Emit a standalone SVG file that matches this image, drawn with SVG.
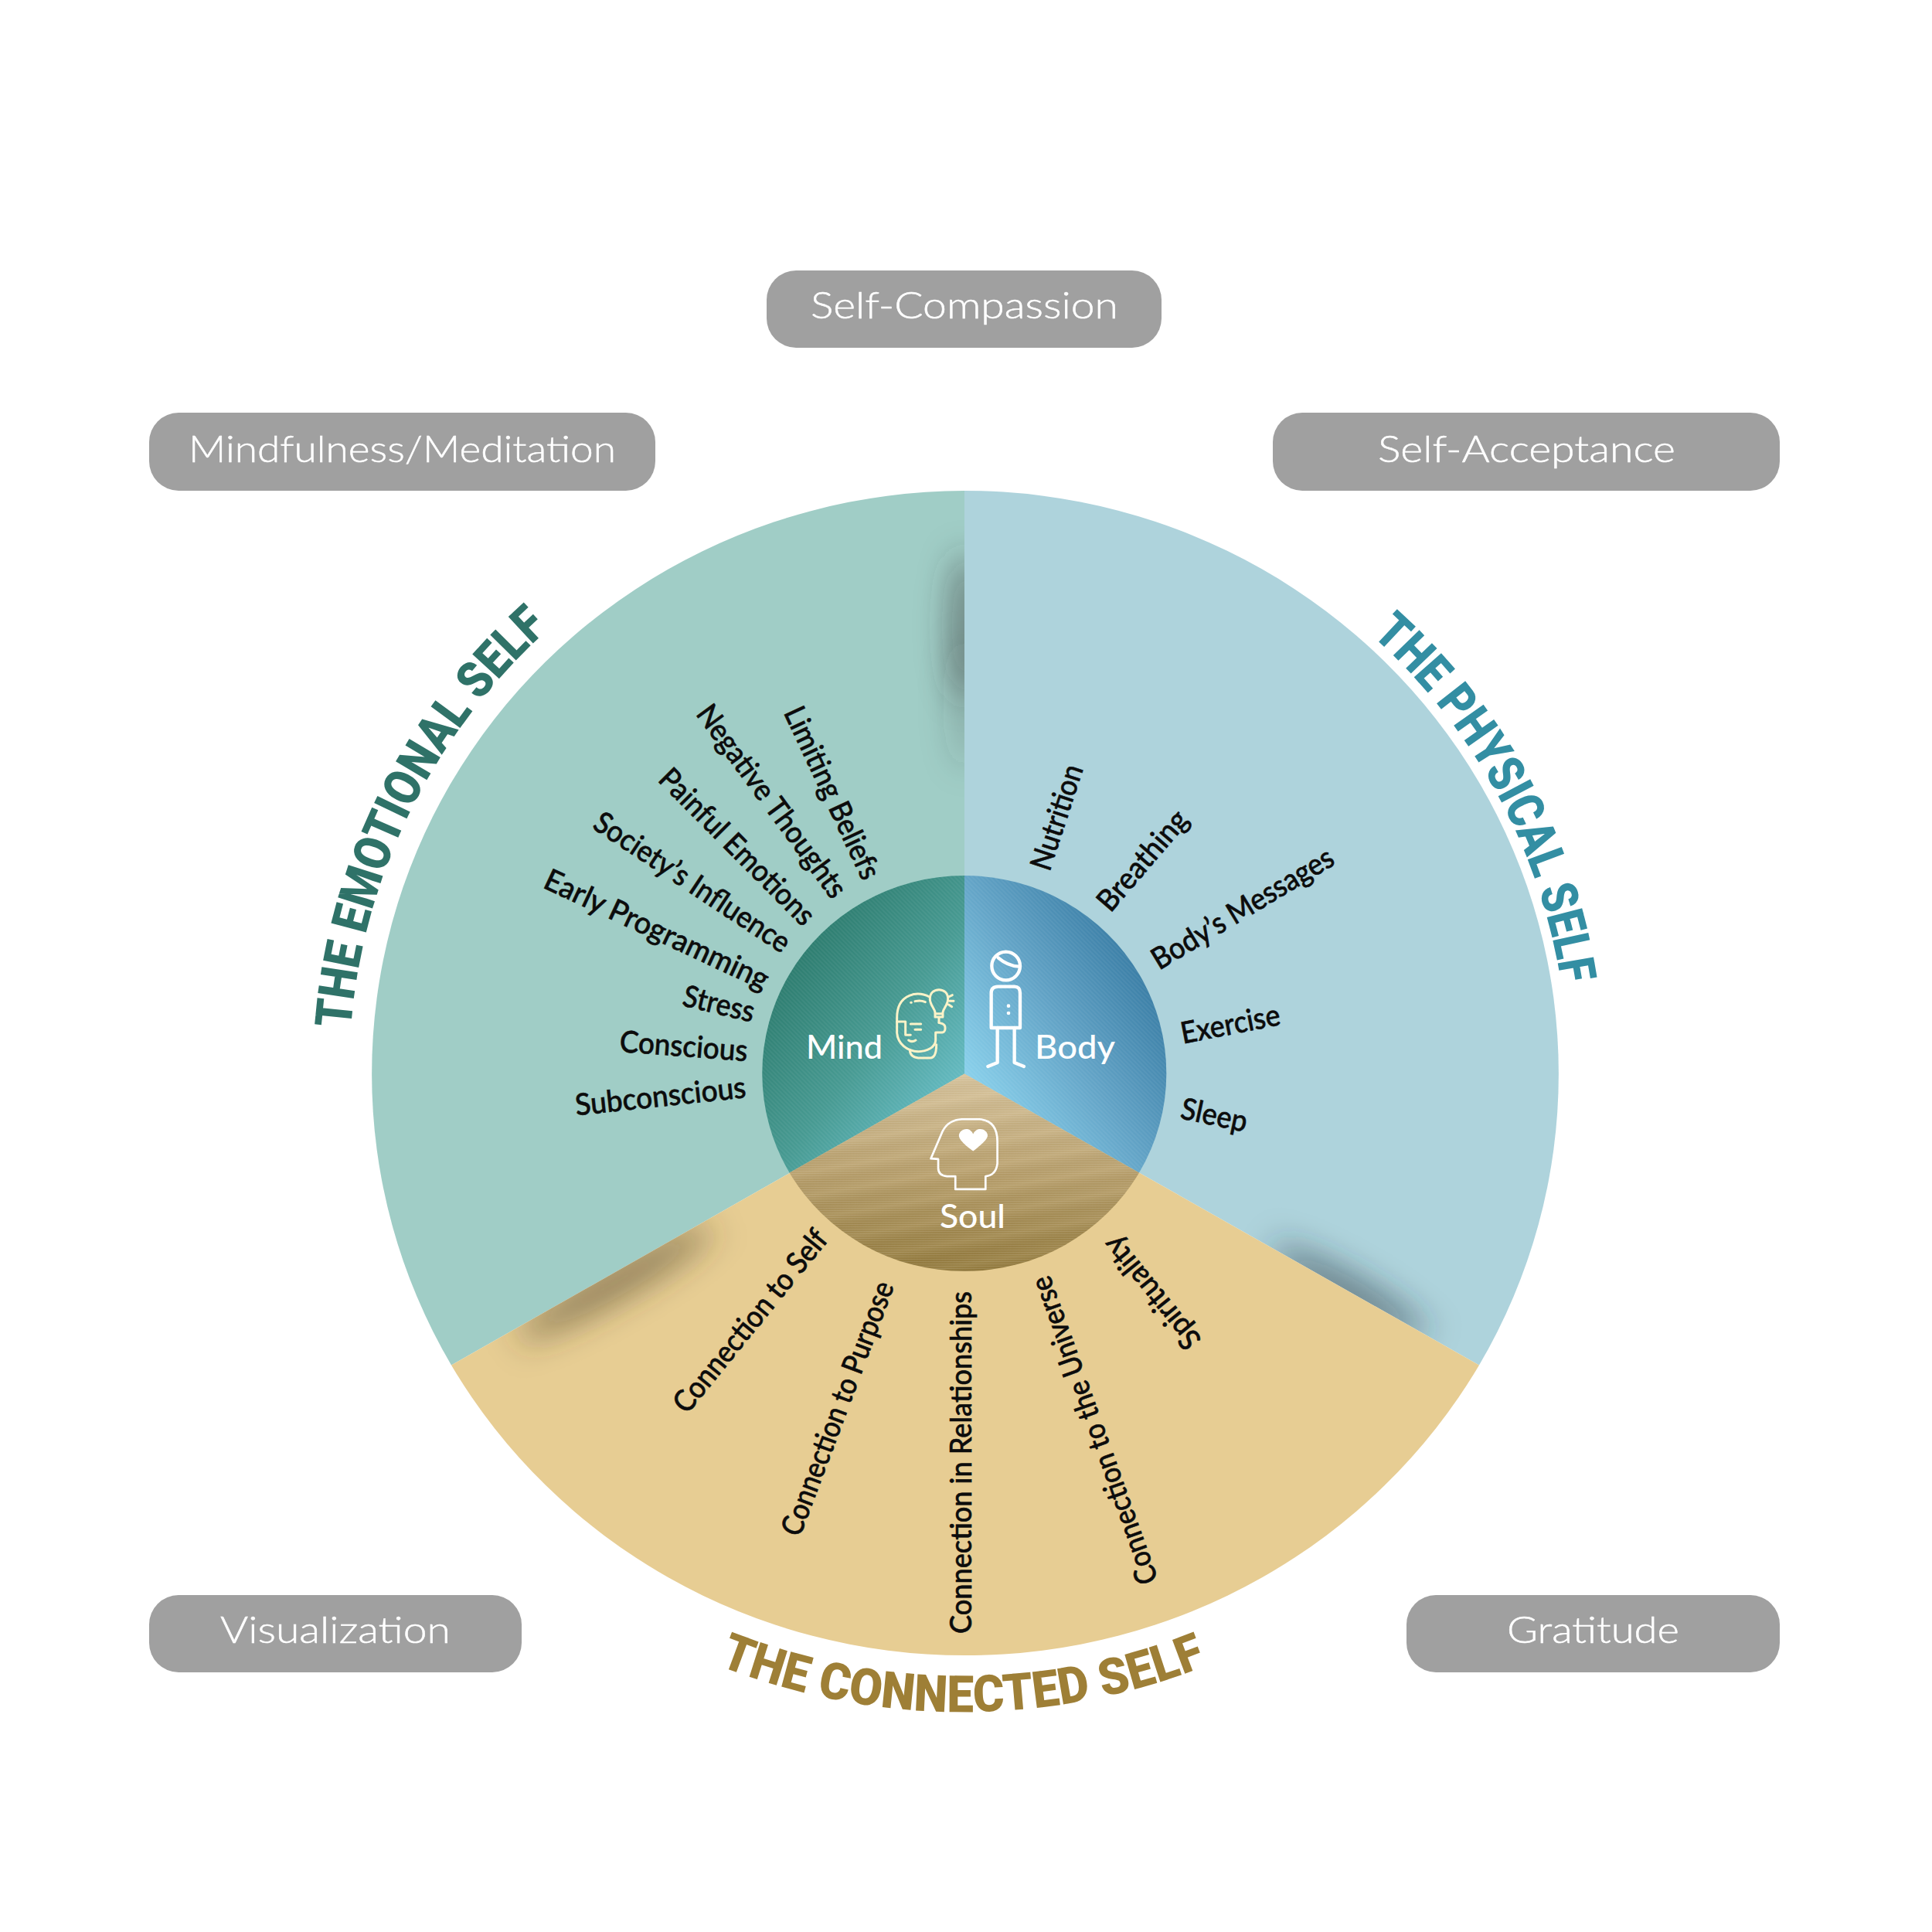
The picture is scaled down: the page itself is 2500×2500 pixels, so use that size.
<svg xmlns="http://www.w3.org/2000/svg" width="2500" height="2500" viewBox="0 0 2500 2500">
<style>
.pill{fill:#a0a0a0}
.pt{font-family:Lato,"Liberation Sans",sans-serif;font-weight:300;font-size:48px;fill:#fff;stroke:#fff;stroke-width:.5px}
.lb{font-family:Lato,"Liberation Sans",sans-serif;font-weight:500;font-size:39px;fill:#0c0c0c;stroke:#0c0c0c;stroke-width:.6px}
.ct{font-family:Lato,"Liberation Sans",sans-serif;font-weight:500;font-size:42px;fill:#fff}
.tt{font-family:Roboto,Lato,sans-serif;font-weight:900;font-size:66px}
.ic{fill:none;stroke-linecap:round;stroke-linejoin:round}
</style>
<defs>
<clipPath id="cG"><path d="M1248 1389.500L584 1766.500A769 754.500 0 0 1 1248 635Z"/></clipPath>
<clipPath id="cB"><path d="M1248 1389.500L1248 635A769 754.500 0 0 1 1914 1766.500Z"/></clipPath>
<clipPath id="cY"><path d="M1248 1389.500L1914 1766.500A769 754.500 0 0 1 584 1766.500Z"/></clipPath>
<filter id="blur" x="-400%" y="-400%" width="900%" height="900%"><feGaussianBlur stdDeviation="22"/></filter>
<linearGradient id="gMind" gradientUnits="userSpaceOnUse" x1="1020" y1="1230" x2="1250" y2="1400"><stop offset="0" stop-color="#2b7a6c"/><stop offset=".55" stop-color="#479a92"/><stop offset="1" stop-color="#66bcc4"/></linearGradient>
<linearGradient id="gBody" gradientUnits="userSpaceOnUse" x1="1260" y1="1400" x2="1490" y2="1260"><stop offset="0" stop-color="#88cfea"/><stop offset=".5" stop-color="#62a3c6"/><stop offset="1" stop-color="#387ca4"/></linearGradient>
<linearGradient id="gSoul" gradientUnits="userSpaceOnUse" x1="1248" y1="1390" x2="1248" y2="1645"><stop offset="0" stop-color="#d8c49c"/><stop offset=".5" stop-color="#b9a06c"/><stop offset="1" stop-color="#937a3c"/></linearGradient>
<linearGradient id="bands" gradientUnits="userSpaceOnUse" x1="1248" y1="1390" x2="1253" y2="1420" spreadMethod="repeat"><stop offset="0" stop-color="#fff" stop-opacity=".05"/><stop offset=".5" stop-color="#000" stop-opacity=".03"/><stop offset="1" stop-color="#fff" stop-opacity=".05"/></linearGradient>
<pattern id="hatch" width="4" height="4" patternUnits="userSpaceOnUse" patternTransform="rotate(45)"><rect width="4" height="2" fill="#fff" fill-opacity=".05"/></pattern>
<pattern id="hlines" width="4" height="3" patternUnits="userSpaceOnUse"><rect width="4" height="1" fill="#fff" fill-opacity=".1"/></pattern>
<path id="pE" d="M454 1331A796 781 0 0 1 1248 608.500"/>
<path id="pP" d="M1775 822A781 767 0 0 1 1910 1795"/>
<path id="pC" d="M930 2155A843 827 0 0 0 1900 1910"/>
</defs>
<rect width="2500" height="2500" fill="#fff"/>

<g id="practices">
<g id="self-compassion"><rect class="pill" x="992" y="350" width="511" height="100" rx="38"/><text class="pt" x="1049" y="411.700" textLength="398" lengthAdjust="spacingAndGlyphs">Self-Compassion</text></g>
<g id="mindfulness"><rect class="pill" x="193" y="534" width="655" height="101" rx="38"/><text class="pt" x="244" y="597.700" textLength="553" lengthAdjust="spacingAndGlyphs">Mindfulness/Meditation</text></g>
<g id="self-acceptance"><rect class="pill" x="1647" y="534" width="656" height="101" rx="38"/><text class="pt" x="1783" y="597.700" textLength="385" lengthAdjust="spacingAndGlyphs">Self-Acceptance</text></g>
<g id="visualization"><rect class="pill" x="193" y="2064" width="482" height="100" rx="38"/><text class="pt" x="285" y="2126" textLength="298" lengthAdjust="spacingAndGlyphs">Visualization</text></g>
<g id="gratitude"><rect class="pill" x="1820" y="2064" width="483" height="100" rx="38"/><text class="pt" x="1950" y="2126" textLength="223" lengthAdjust="spacingAndGlyphs">Gratitude</text></g>
</g>

<g id="emotional-self">
<path d="M1248 1389.500L584 1766.500A769 754.500 0 0 1 1248 635Z" fill="#a0cdc6"/>
<g clip-path="url(#cG)"><ellipse cx="1250" cy="810" rx="20" ry="95" fill="#333" fill-opacity=".55" filter="url(#blur)"/><ellipse cx="1250" cy="910" rx="16" ry="85" fill="#333" fill-opacity=".25" filter="url(#blur)"/></g>
<text class="tt" fill="#2f7268"><textPath href="#pE"><tspan textLength="592" lengthAdjust="spacingAndGlyphs">THE EMOTIONAL SELF</tspan></textPath></text>
<g class="lb">
<text transform="translate(1013.600 922) rotate(64.900)" textLength="242" lengthAdjust="spacingAndGlyphs">Limiting Beliefs</text>
<text transform="translate(899.500 924) rotate(53.700)" textLength="299" lengthAdjust="spacingAndGlyphs">Negative Thoughts</text>
<text transform="translate(850 1010) rotate(45.200)" textLength="268" lengthAdjust="spacingAndGlyphs">Painful Emotions</text>
<text transform="translate(765 1071) rotate(33.500)" textLength="296" lengthAdjust="spacingAndGlyphs">Society’s Influence</text>
<text transform="translate(701 1148) rotate(25)" textLength="316" lengthAdjust="spacingAndGlyphs">Early Programming</text>
<text transform="translate(881.500 1301) rotate(13.500)" textLength="94" lengthAdjust="spacingAndGlyphs">Stress</text>
<text transform="translate(801 1361) rotate(4.200)" textLength="166" lengthAdjust="spacingAndGlyphs">Conscious</text>
<text transform="translate(745.700 1443.600) rotate(-6.100)" textLength="222" lengthAdjust="spacingAndGlyphs">Subconscious</text>
</g>
</g>

<g id="physical-self">
<path d="M1248 1389.500L1248 635A769 754.500 0 0 1 1914 1766.500Z" fill="#aed3dc"/>
<g clip-path="url(#cB)"><ellipse cx="0" cy="0" rx="115" ry="20" transform="translate(1745 1672) rotate(29.500)" fill="#28343a" fill-opacity=".6" filter="url(#blur)"/></g>
<text class="tt" fill="#338ea3"><textPath href="#pP"><tspan textLength="524" lengthAdjust="spacingAndGlyphs">THE PHYSICAL SELF</tspan></textPath></text>
<g class="lb">
<text transform="translate(1358.300 1128.700) rotate(-71.900)" textLength="141" lengthAdjust="spacingAndGlyphs">Nutrition</text>
<text transform="translate(1437 1182) rotate(-49.400)" textLength="158" lengthAdjust="spacingAndGlyphs">Breathing</text>
<text transform="translate(1500 1256) rotate(-31.100)" textLength="268" lengthAdjust="spacingAndGlyphs">Body’s Messages</text>
<text transform="translate(1530.700 1350.800) rotate(-11)" textLength="130" lengthAdjust="spacingAndGlyphs">Exercise</text>
<text transform="translate(1526 1447) rotate(12)" textLength="87" lengthAdjust="spacingAndGlyphs">Sleep</text>
</g>
</g>

<g id="connected-self">
<path d="M1248 1389.500L1914 1766.500A769 754.500 0 0 1 584 1766.500Z" fill="#e7cd93"/>
<g clip-path="url(#cY)"><ellipse cx="0" cy="0" rx="145" ry="20" transform="translate(795 1660) rotate(-29.500)" fill="#453a28" fill-opacity=".6" filter="url(#blur)"/></g>
<text class="tt" fill="#9e7f36"><textPath href="#pC"><tspan textLength="647" lengthAdjust="spacingAndGlyphs">THE CONNECTED SELF</tspan></textPath></text>
<g class="lb">
<text transform="translate(889 1831) rotate(-50.900)" textLength="292" lengthAdjust="spacingAndGlyphs">Connection to Self</text>
<text transform="translate(1035 1990) rotate(-69.400)" textLength="348" lengthAdjust="spacingAndGlyphs">Connection to Purpose</text>
<text transform="translate(1256.600 2114) rotate(-90)" textLength="443" lengthAdjust="spacingAndGlyphs">Connection in Relationships</text>
<text transform="translate(1499 2044.400) rotate(-109.600)" textLength="420" lengthAdjust="spacingAndGlyphs">Connection to the Universe</text>
<text transform="translate(1556 1733) rotate(-129)" textLength="176" lengthAdjust="spacingAndGlyphs">Spirituality</text>
</g>
</g>

<g id="mind">
<path d="M1248 1389.500L1021.600 1517.500A261.500 256 0 0 1 1248 1133Z" fill="url(#gMind)"/>
<path d="M1248 1389.500L1021.600 1517.500A261.500 256 0 0 1 1248 1133Z" fill="url(#hatch)"/>
<text class="ct" x="1043" y="1370" textLength="99" lengthAdjust="spacingAndGlyphs">Mind</text>
<g class="ic" stroke="#fbf3c8" stroke-width="9" transform="translate(1120 1210) scale(.3333)">
<path d="M248 240C225 228 195 225 170 235C140 248 122 275 122 320L122 380C125 420 160 452 205 452C240 452 270 435 272 410L272 378L298 378C312 375 314 350 298 344L285 340"/>
<path d="M172 445C172 465 185 475 205 477L250 477C268 477 275 460 275 425"/>
<path d="M122 336L155 336L155 388L175 388M175 345L215 345M192 367L215 367M167 408Q180 418 195 408M176 262L178 262M192 257Q215 252 232 260"/>
<path d="M270 318L270 300C268 285 250 270 250 248C250 225 265 212 285 212C305 212 320 225 320 248C320 270 302 285 300 300L300 318ZM270 305L300 305M285 318L285 340M323 240L337 233M327 256L342 256M323 270L335 278"/>
</g>
</g>

<g id="body">
<path d="M1248 1389.500L1248 1133A261.500 256 0 0 1 1474 1517.500Z" fill="url(#gBody)"/>
<path d="M1248 1389.500L1248 1133A261.500 256 0 0 1 1474 1517.500Z" fill="url(#hatch)"/>
<text class="ct" x="1339" y="1370" textLength="104" lengthAdjust="spacingAndGlyphs">Body</text>
<g class="ic" stroke="#fff" stroke-width="13" transform="translate(1120 1210) scale(.3333)">
<circle cx="545" cy="120" r="55"/>
<path d="M515 88C535 105 560 120 595 122"/>
<path d="M488 360L488 225Q488 200 515 200L578 200Q600 200 600 225L600 360Z"/>
<path d="M512 360L512 495L475 510M578 360L578 495L615 510"/>
<circle cx="555" cy="275" r="7" fill="#fff" stroke="none"/><circle cx="555" cy="303" r="7" fill="#fff" stroke="none"/>
</g>
</g>

<g id="soul">
<path d="M1248 1389.500L1474 1517.500A261.500 256 0 0 1 1021.600 1517.500Z" fill="url(#gSoul)"/>
<path d="M1248 1389.500L1474 1517.500A261.500 256 0 0 1 1021.600 1517.500Z" fill="url(#bands)"/>
<path d="M1248 1389.500L1474 1517.500A261.500 256 0 0 1 1021.600 1517.500Z" fill="url(#hlines)"/>
<text class="ct" x="1216" y="1589" textLength="85" lengthAdjust="spacingAndGlyphs">Soul</text>
<g class="ic" stroke="#fff" stroke-width="7" transform="translate(950 1100) scale(.38270)">
<path d="M665 1043L705 950Q725 912 770 910L830 910Q890 915 890 985L890 1060Q885 1100 850 1103L850 1147L748 1147L748 1103L720 1103Q690 1100 690 1075L690 1045Z"/>
<path d="M808 1018C770 990 760 975 760 965C760 945 795 930 808 960C822 930 857 945 857 965C857 975 845 990 808 1018Z" fill="#fff" stroke="none"/>
</g>
</g>
</svg>
